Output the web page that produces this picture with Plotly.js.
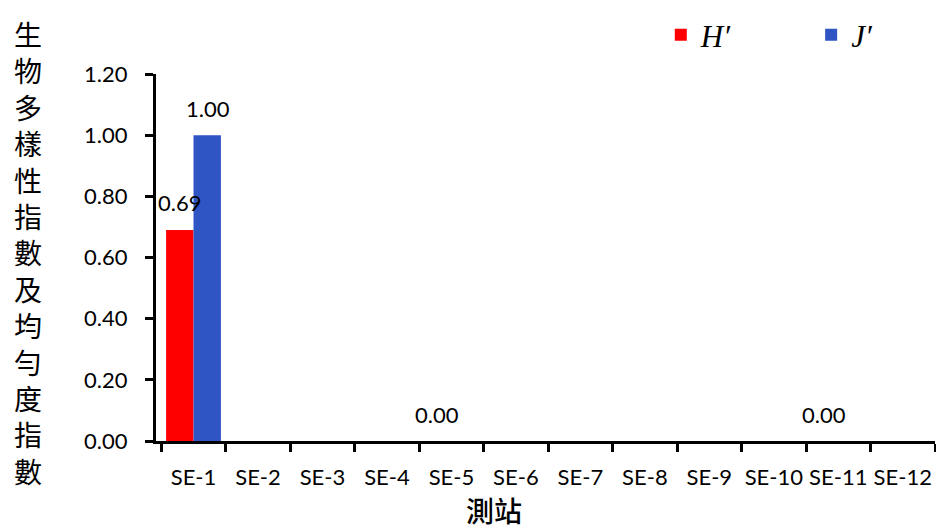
<!DOCTYPE html>
<html><head><meta charset="utf-8">
<script src="https://cdn.plot.ly/plotly-3.0.1.min.js"></script>
<style>html,body{margin:0;padding:0;background:#fff}</style>
</head><body>
<div id="chart" style="width:936px;height:529px"></div>
<script>
const stations = ['SE-1','SE-2','SE-3','SE-4','SE-5','SE-6','SE-7','SE-8','SE-9','SE-10','SE-11','SE-12'];
const hValues = [0.69, null, null, null, 0, null, null, null, null, null, 0, null];
const jValues = [1.00, null, null, null, null, null, null, null, null, null, null, null];
const yTickVals = [0, 0.2, 0.4, 0.6, 0.8, 1.0, 1.2];
const yTitleText = '生物多樣性指數及均勻度指數';
const xTitleText = '測站';

const labelFont = {family: 'Lato, "Noto Sans", sans-serif', size: 22, color: '#000'};
const tickFont = {family: 'Lato, "Noto Sans", sans-serif', size: 22, color: '#000'};
const legendFont = {family: '"Liberation Serif", serif', size: 31, color: '#000'};
const cjkFont = {family: '"Noto Sans CJK TC", sans-serif', size: 28, color: '#000'};

const traces = [
  {type: 'bar', name: '<i>H′</i>', x: stations, y: hValues, marker: {color: '#ff0000'}, hoverinfo: 'none', legend: 'legend'},
  {type: 'bar', name: '<i>J′</i>', x: stations, y: jValues, marker: {color: '#2f55c5'}, hoverinfo: 'none', legend: 'legend2'}
];

const annotations = [];
function addLabels(vals, shift) {
  vals.forEach((v, i) => {
    if (v === null) return;
    annotations.push({x: stations[i], y: v, xref: 'x', yref: 'y', text: v.toFixed(2),
      showarrow: false, xshift: shift, yshift: 27, font: labelFont});
  });
}
addLabels(hValues, -14);
addLabels(jValues, 14);

annotations.push({xref: 'paper', yref: 'paper', x: -0.164, y: 0.514, xanchor: 'center', yanchor: 'middle',
  text: yTitleText.split('').join('<br>'), showarrow: false, font: cjkFont});
annotations.push({xref: 'paper', yref: 'paper', x: 0.434, y: -0.188, xanchor: 'center', yanchor: 'middle',
  text: xTitleText, showarrow: false,
  font: {family: '"Noto Sans CJK TC", sans-serif', size: 28, color: '#000', weight: 500}});

const layout = {
  width: 936, height: 529,
  margin: {l: 156, r: 1, t: 74, b: 88},
  paper_bgcolor: '#fff', plot_bgcolor: '#fff',
  barmode: 'group', bargap: 0.15, bargroupgap: 0,
  showlegend: true,
  legend: {x: 0.648, y: 1.106, xanchor: 'left', yanchor: 'middle',
    font: legendFont, itemwidth: 30, bgcolor: 'rgba(0,0,0,0)'},
  legend2: {x: 0.841, y: 1.106, xanchor: 'left', yanchor: 'middle',
    font: legendFont, itemwidth: 30, bgcolor: 'rgba(0,0,0,0)'},
  xaxis: {
    type: 'category', categoryarray: stations, tickson: 'boundaries', tickangle: 0, automargin: false,
    showline: true, linecolor: '#000', linewidth: 3,
    ticks: 'outside', ticklen: 8, tickwidth: 3, tickcolor: '#000',
    showgrid: false, zeroline: false,
    tickfont: tickFont,
    ticklabelstandoff: 15
  },
  yaxis: {
    range: [0, 1.2], tickvals: yTickVals, tickformat: '.2f', automargin: false,
    showline: true, linecolor: '#000', linewidth: 3,
    ticks: 'outside', ticklen: 8, tickwidth: 3, tickcolor: '#000',
    showgrid: false, zeroline: false,
    tickfont: tickFont,
    ticklabelstandoff: 13
  },
  annotations: annotations
};

Plotly.newPlot('chart', traces, layout, {staticPlot: true, displayModeBar: false});
</script>
</body></html>
